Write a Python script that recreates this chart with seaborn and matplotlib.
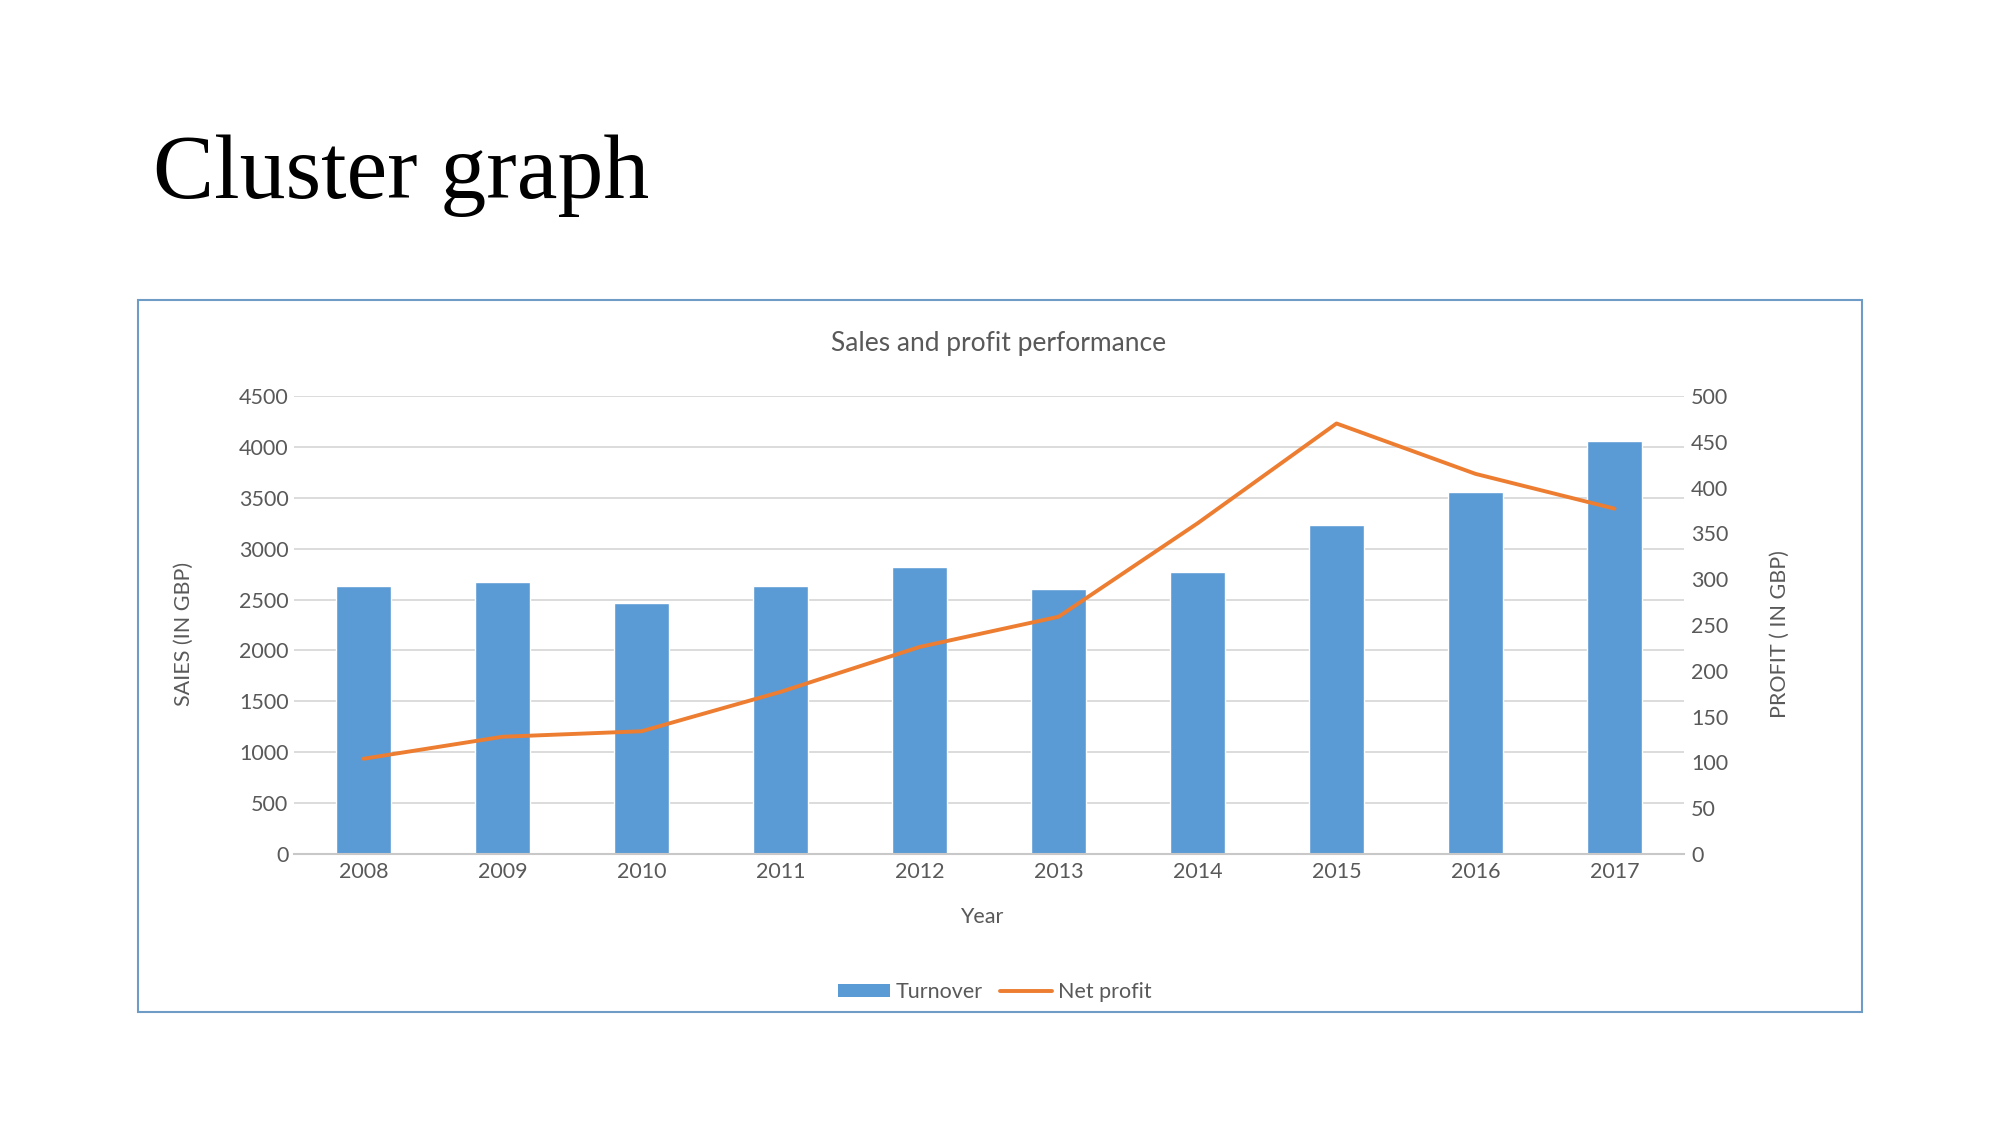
import matplotlib
matplotlib.use("Agg")
import matplotlib.pyplot as plt
import seaborn as sns
import pandas as pd
from matplotlib.patches import Patch, Rectangle
from matplotlib.lines import Line2D

years = ["2008", "2009", "2010", "2011", "2012", "2013", "2014", "2015", "2016", "2017"]
turnover = [2630, 2675, 2470, 2630, 2820, 2600, 2770, 3235, 3560, 4060]
net_profit = [104, 128, 134, 177, 226, 259, 361, 470, 415, 377]
sales_ticks = [0, 500, 1000, 1500, 2000, 2500, 3000, 3500, 4000, 4500]
profit_ticks = [0, 50, 100, 150, 200, 250, 300, 350, 400, 450, 500]

df = pd.DataFrame({"Year": years, "Turnover": turnover, "Net profit": net_profit})

sns.set_theme(style="white")
plt.rcParams["font.family"] = ["Lato", "DejaVu Sans"]

bar_color = "#5B9BD5"
line_color = "#ED7D31"
text_color = "#595959"
grid_color = "#D9D9D9"

fig = plt.figure(figsize=(20.01, 11.25), dpi=100)
fig.patch.set_facecolor("white")

# slide title
fig.text(153 / 2001, 1 - 198 / 1125, "Cluster graph", family="Liberation Serif",
         fontsize=66, color="black", ha="left", va="baseline")

# chart frame
fig.patches.append(Rectangle((138 / 2001, 1 - 1012 / 1125), (1862 - 138) / 2001, (1012 - 300) / 1125,
                             transform=fig.transFigure, fill=False, edgecolor="#6E9CC6", linewidth=1.5))

ax = fig.add_axes([294 / 2001, 1 - 854 / 1125, (1684 - 294) / 2001, (854 - 396) / 1125])
sns.barplot(data=df, x="Year", y="Turnover", color=bar_color, saturation=1, width=0.4, ax=ax, zorder=2)
ax.set_ylim(0, 4500)
ax.set_yticks(sales_ticks)
ax.yaxis.grid(True, color=grid_color, linewidth=1.3, zorder=0)
ax.set_axisbelow(True)
for s in ["top", "right", "left"]:
    ax.spines[s].set_visible(False)
ax.spines["bottom"].set_color("#C8C8C8")
ax.spines["bottom"].set_linewidth(1.5)
ax.tick_params(axis="both", length=0, labelsize=15.5, labelcolor=text_color)
ax.tick_params(axis="y", pad=4)
ax.tick_params(axis="x", pad=6)
ax.set_xlabel("")
ax.set_ylabel("")

ax2 = ax.twinx()
sns.lineplot(data=df, x="Year", y="Net profit", color=line_color, linewidth=2.8, ax=ax2, sort=False)
ax2.set_ylim(0, 500)
ax2.set_yticks(profit_ticks)
for s in ["top", "right", "left", "bottom"]:
    ax2.spines[s].set_visible(False)
ax2.tick_params(axis="y", length=0, labelsize=15.5, labelcolor=text_color, pad=5)
ax2.set_ylabel("")
ax2.set_xlabel("")
ax2.grid(False)
ax.set_xlim(-0.5, len(years) - 0.5)

fig.text(999 / 2001, 1 - 343 / 1125, "Sales and profit performance", fontsize=19,
         color=text_color, ha="center", va="center")
fig.text(982 / 2001, 1 - 917 / 1125, "Year", fontsize=15.5, color=text_color, ha="center", va="center")
fig.text(184 / 2001, 1 - 634 / 1125, "SAIES (IN GBP)", fontsize=15.5, color=text_color,
         rotation=90, ha="center", va="center")
fig.text(1780 / 2001, 1 - 634 / 1125, "PROFIT ( IN GBP)", fontsize=15.5, color=text_color,
         rotation=90, ha="center", va="center")

handles = [Patch(facecolor=bar_color, edgecolor="none"),
           Line2D([0], [0], color=line_color, linewidth=2.8)]
fig.legend(handles, ["Turnover", "Net profit"], loc="center", bbox_to_anchor=(995 / 2001, 1 - 992 / 1125),
           ncol=2, frameon=False, fontsize=15.5, labelcolor=text_color, handlelength=2.4,
           handleheight=0.6, handletextpad=0.3, columnspacing=0.8)

fig.savefig("out.png", dpi=100, facecolor="white")
